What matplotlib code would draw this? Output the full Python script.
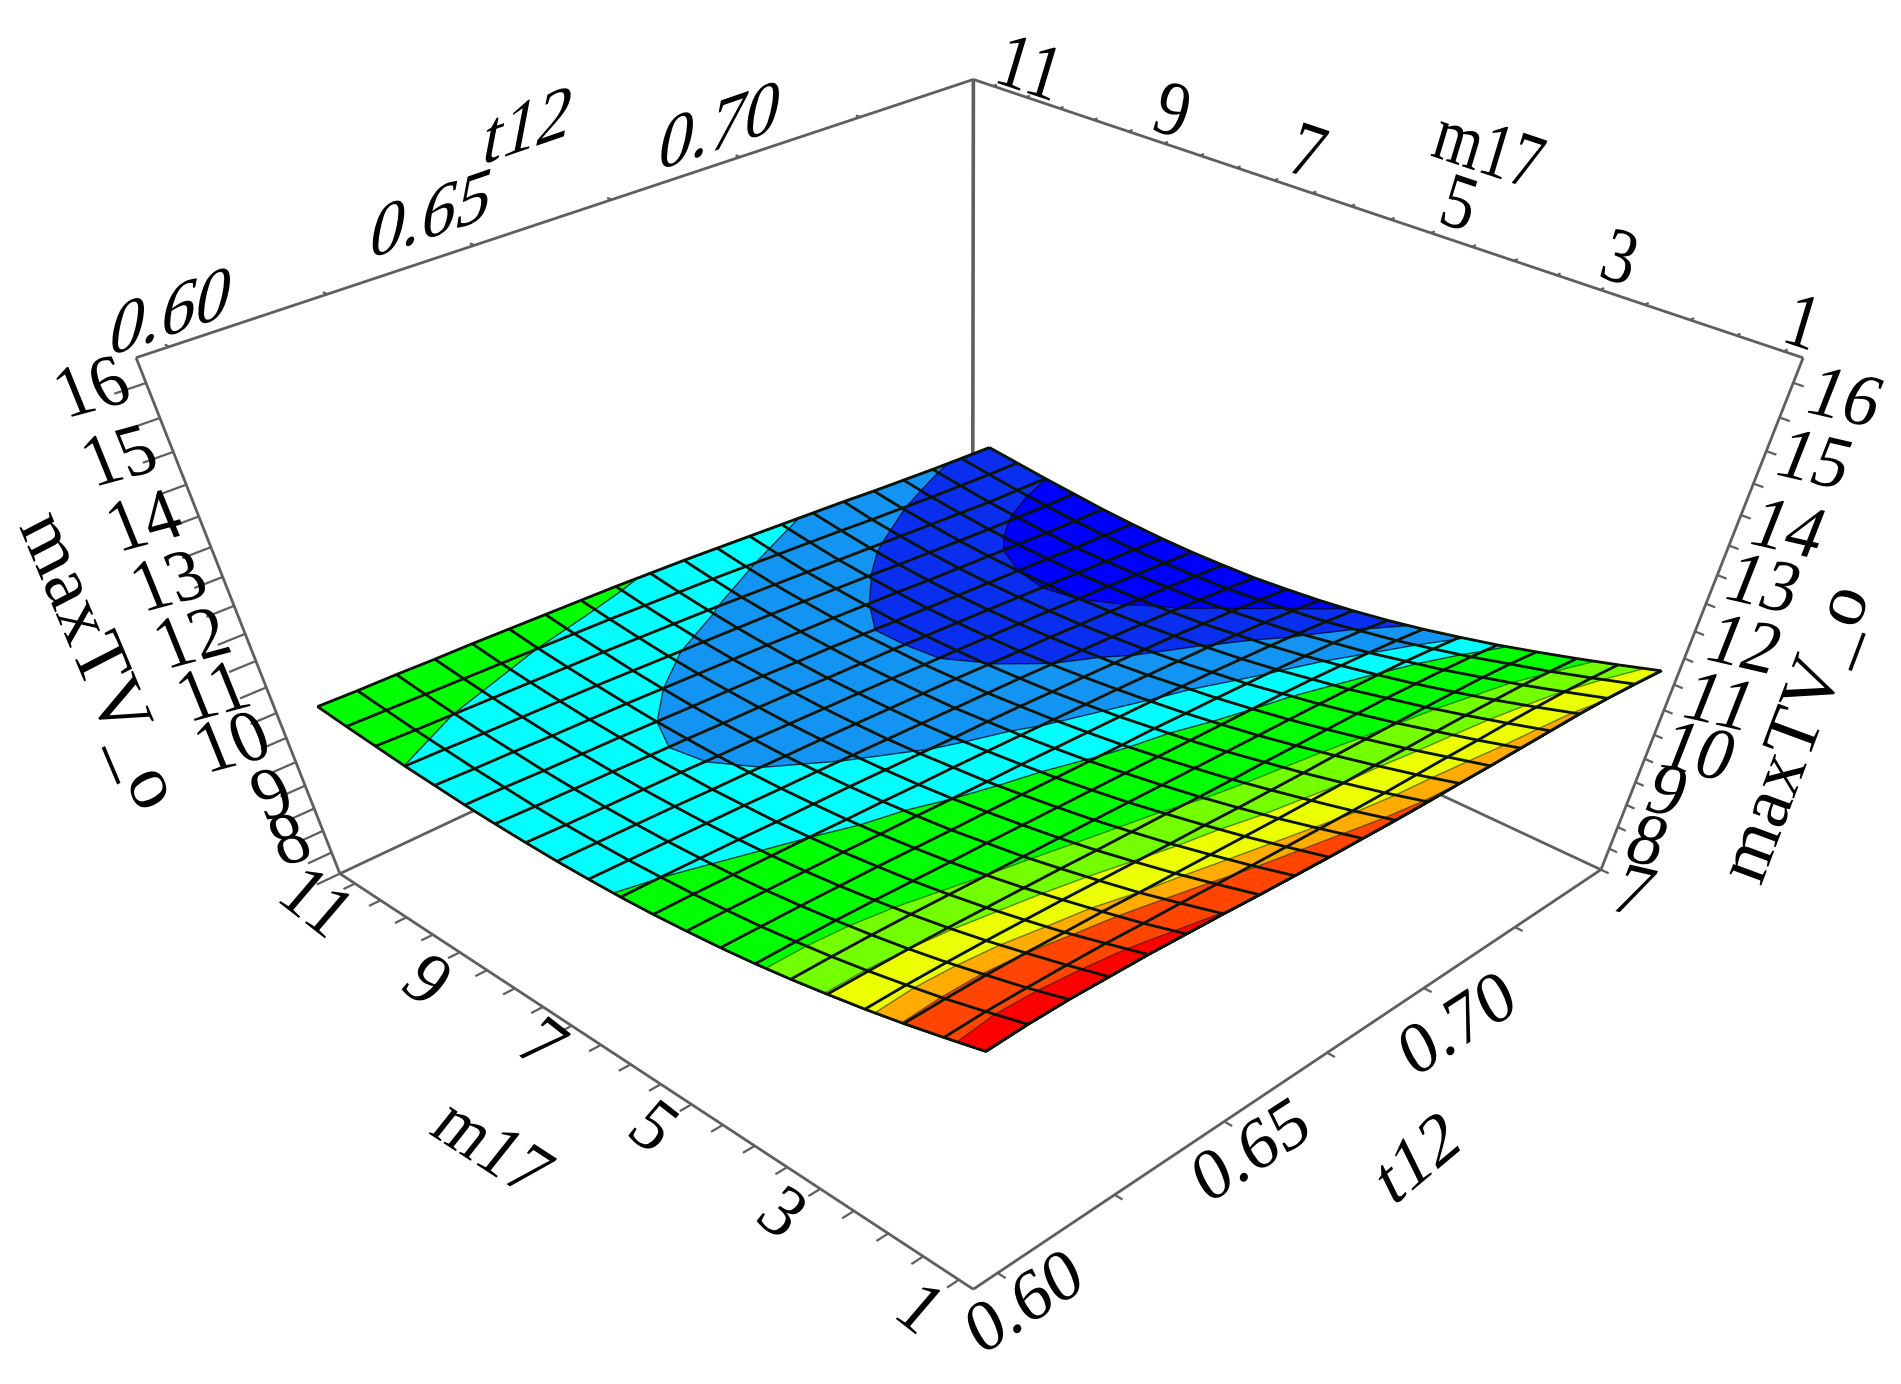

import numpy as np, matplotlib
matplotlib.use('Agg')
import matplotlib.pyplot as plt
from matplotlib.patheffects import AbstractPathEffect
from matplotlib.transforms import Affine2D
from mpl_toolkits.mplot3d import art3d, proj3d

# ---------- data ----------
m17_values = np.arange(1, 11.01, 0.5)
t12_values = np.arange(0.60, 0.7501, 0.0075)
maxTV_o = np.array([
[11.82,11.61,11.41,11.23,11.07,10.92,10.79,10.68,10.59,10.51,10.45,10.41,10.38,10.37,10.37,10.38,10.41,10.44,10.49,10.54,10.60],
[11.85,11.63,11.42,11.24,11.07,10.92,10.79,10.67,10.58,10.50,10.44,10.39,10.36,10.34,10.34,10.36,10.38,10.42,10.46,10.52,10.58],
[11.85,11.62,11.42,11.23,11.06,10.91,10.78,10.66,10.56,10.48,10.42,10.37,10.34,10.32,10.32,10.33,10.36,10.39,10.44,10.50,10.57],
[11.82,11.60,11.40,11.21,11.04,10.89,10.76,10.64,10.54,10.46,10.40,10.35,10.32,10.30,10.30,10.31,10.33,10.37,10.42,10.48,10.55],
[11.79,11.57,11.36,11.18,11.01,10.86,10.73,10.62,10.52,10.44,10.37,10.33,10.29,10.28,10.27,10.29,10.31,10.35,10.40,10.46,10.54],
[11.74,11.52,11.33,11.15,10.98,10.83,10.70,10.59,10.49,10.41,10.35,10.30,10.27,10.25,10.25,10.26,10.29,10.33,10.38,10.44,10.52],
[11.69,11.48,11.28,11.11,10.95,10.80,10.68,10.56,10.47,10.39,10.33,10.28,10.24,10.23,10.22,10.23,10.26,10.30,10.36,10.42,10.50],
[11.63,11.43,11.24,11.07,10.91,10.77,10.65,10.54,10.44,10.36,10.30,10.25,10.22,10.20,10.20,10.21,10.23,10.27,10.33,10.40,10.48],
[11.58,11.38,11.20,11.03,10.88,10.74,10.62,10.51,10.41,10.34,10.27,10.22,10.19,10.17,10.17,10.18,10.20,10.24,10.30,10.37,10.46],
[11.53,11.34,11.16,11.00,10.85,10.71,10.59,10.48,10.39,10.31,10.24,10.19,10.16,10.14,10.13,10.14,10.17,10.21,10.27,10.34,10.43],
[11.49,11.30,11.12,10.96,10.81,10.68,10.56,10.45,10.36,10.28,10.22,10.16,10.13,10.11,10.10,10.11,10.13,10.18,10.23,10.31,10.40],
[11.45,11.26,11.09,10.93,10.78,10.65,10.53,10.42,10.33,10.25,10.19,10.13,10.10,10.07,10.07,10.07,10.10,10.14,10.19,10.27,10.36],
[11.42,11.23,11.06,10.90,10.76,10.62,10.50,10.40,10.30,10.22,10.15,10.10,10.06,10.04,10.03,10.03,10.06,10.10,10.15,10.23,10.32],
[11.40,11.21,11.04,10.88,10.73,10.59,10.47,10.36,10.27,10.19,10.12,10.06,10.02,10.00, 9.99, 9.99,10.02,10.06,10.11,10.19,10.28],
[11.37,11.19,11.01,10.85,10.70,10.56,10.44,10.33,10.24,10.15,10.08,10.03, 9.99, 9.96, 9.95, 9.95, 9.97,10.01,10.07,10.15,10.24],
[11.35,11.16,10.99,10.82,10.67,10.53,10.41,10.29,10.20,10.11,10.04, 9.99, 9.94, 9.92, 9.91, 9.91, 9.93, 9.97,10.03,10.10,10.20],
[11.33,11.14,10.96,10.79,10.64,10.49,10.37,10.25,10.15,10.07,10.00, 9.94, 9.90, 9.87, 9.86, 9.87, 9.89, 9.93, 9.99,10.06,10.15],
[11.31,11.11,10.92,10.75,10.59,10.45,10.32,10.20,10.10,10.02, 9.94, 9.89, 9.85, 9.83, 9.82, 9.83, 9.85, 9.89, 9.95,10.02,10.11],
[11.27,11.07,10.88,10.71,10.54,10.40,10.26,10.15,10.04, 9.96, 9.89, 9.83, 9.80, 9.78, 9.77, 9.78, 9.81, 9.86, 9.91, 9.99,10.07],
[11.21,11.01,10.82,10.65,10.48,10.33,10.19,10.08, 9.97, 9.89, 9.82, 9.77, 9.74, 9.73, 9.73, 9.75, 9.78, 9.83, 9.89, 9.96,10.04],
[11.14,10.94,10.75,10.57,10.40,10.25,10.11, 9.99, 9.89, 9.81, 9.75, 9.70, 9.68, 9.67, 9.68, 9.71, 9.75, 9.81, 9.87, 9.94,10.01]])
band_levels = [9.870, 10.056, 10.260, 10.441, 10.826, 11.056, 11.273, 11.397, 11.673]
m17_ticks = np.arange(1, 11.01, 0.5)
t12_ticks = np.arange(0.60, 0.7251, 0.025)
maxTV_ticks = np.arange(7, 16.01, 0.5)
m17_labels = [11, 9, 7, 5, 3, 1]
t12_labels = [0.60, 0.65, 0.70]
left_z_labels = [16, 15, 14, 13, 12, 11, 10, 9, 8]
right_z_labels = [16, 15, 14, 13, 12, 11, 10, 9, 8, 7]

# ---------- camera: 3x4 projective matrix fitted to the box of the picture ----------
camera = np.array([[-0.148677, 0.275547, -0.075797, 0.583125],
                   [-0.063006, -0.067289, -0.192907, 0.386931],
                   [0.053099, 0.060266, -0.078172, 0.590086]])
norm = np.array([[1/5, 0, 0, -6/5], [0, 1/.08, 0, -.675/.08], [0, 0, 1/4.5, -11.5/4.5], [0, 0, 0, 1]])
cam = camera @ norm
W, H = 1901, 1384
M4 = np.array([1000*cam[0], H*cam[2]-1000*cam[1], [.1, .2, .3, 0], cam[2]])
M0, M1, T0, T1, Z0, Z1 = .8, 11.3, .595, .75, 7, 16.35

class Plane(AbstractPathEffect):
    """Draws a text on the sheared plane of its axis wall."""
    def __init__(self, v, w, anchor):
        super().__init__(); self.v = v; self.w = w; self.a = anchor
    def draw_path(self, renderer, gc, tpath, affine, rgbFace=None):
        mx = affine.get_matrix(); s = np.hypot(mx[0, 0], mx[1, 0]); e = tpath.get_extents()
        A = (Affine2D().translate(-(e.x0+e.x1)/2, -(e.y0+e.y1)/2).scale(s)
             + Affine2D(np.array([[self.v[0], self.w[0], self.a[0]], [self.v[1], self.w[1], self.a[1]], [0, 0, 1.]])))
        renderer.draw_path(gc, tpath, A, rgbFace)

fig = plt.figure(figsize=(W/100, H/100), dpi=100)
ax = fig.add_axes([0, 0, 1, 1], projection='3d')
ax.set_axis_off(); ax.computed_zorder = False
ax.apply_aspect = lambda position=None: None
ax.get_proj = lambda: M4

band_colors = [(0, 0, 1), (.04, .18, .93), (.08, .58, .95), (0, 1, 1), (0, 1, 0), (.45, 1, 0), (.92, 1, 0), (1, .67, 0), (1, .27, 0), (1, 0, 0)]
frame = '#5f5f5f'
def segs(lst, lw):
    ax.add_collection3d(art3d.Line3DCollection(lst, colors=frame, linewidths=lw, zorder=1))
segs([[(M1, T0, Z0), (M0, T0, Z0)], [(M0, T0, Z0), (M0, T1, Z0)], [(M1, T0, Z0), (M1, T1, Z0)], [(M0, T1, Z0), (M1, T1, Z0)],
      [(M1, T0, Z0), (M1, T0, Z1)], [(M0, T1, Z0), (M0, T1, Z1)], [(M1, T0, Z1), (M1, T1, Z1)], [(M1, T1, Z1), (M0, T1, Z1)]], 2.0)
segs([[(M1, T1, Z0), (M1, T1, Z1)]], 2.6)
tk = []
for m in m17_ticks:
    tk += [[(m, T0, Z0), (m, T0-.0024, Z0)], [(m, T1, Z1), (m, T1+.0009, Z1)]]
for t in t12_ticks:
    tk += [[(M0, t, Z0), (M0-.11, t, Z0)], [(M1, t, Z1), (M1+.07, t, Z1)]]
for z in maxTV_ticks:
    tk += [[(M1, T0, z), (M1, T0-.0048, z)], [(M0, T1, z), (M0-.11, T1, z)]]
segs(tk, 1.6)

MM, TT = np.meshgrid(m17_values, t12_values)
ax.plot_surface(MM, TT, maxTV_o, color=band_colors[0], shade=False, linewidth=0, zorder=2, rstride=1, cstride=1)
def lift(mv, tv):
    i = np.clip((mv-1)/.5, 0, 20-1e-9); j = np.clip((tv-.6)/.0075, 0, 20-1e-9)
    i0 = i.astype(int); j0 = j.astype(int); a = i-i0; b = j-j0
    return (maxTV_o[j0, i0]*(1-a)*(1-b) + maxTV_o[j0, i0+1]*a*(1-b) + maxTV_o[j0+1, i0]*(1-a)*b + maxTV_o[j0+1, i0+1]*a*b)
ft, at = plt.subplots()
for k, (lev, col) in enumerate(zip(band_levels, band_colors[1:])):
    cs = at.contourf(MM, TT, maxTV_o, levels=[lev, 1e3])
    polys = []
    for p in cs.get_paths():
        for poly in p.to_polygons(closed_only=False):
            if len(poly) > 2:
                polys.append(np.c_[poly, lift(poly[:, 0], poly[:, 1])])
    ax.add_collection3d(art3d.Poly3DCollection(polys, facecolors=[col], edgecolors=[(0, 0, .1, .75)] if k < 4 else [(0, .1, 0, .5)], linewidths=1.0, zorder=3+k*.01))
plt.close(ft)
ax.plot_wireframe(MM, TT, maxTV_o, color='#0a1408', linewidth=2.0, rstride=1, cstride=1, zorder=4)

SERIF = 'Liberation Serif'
def put(x, y, s, v, w):
    ax.text2D(x, y, s, ha='center', va='center', fontsize=54, family=SERIF, color='black', clip_on=False,
              rotation=np.degrees(np.arctan2(v[1], v[0])), transform=ax.transData,
              path_effects=[Plane(v, w, (x, y))], zorder=6)
def label(m, t, z, s, dx, dy, v, w):
    x, y, _ = proj3d.proj_transform(m, t, z, M4)
    put(x+dx, y-dy, s, v, w)
def V(deg, s):
    return (s*np.cos(np.radians(deg)), s*np.sin(np.radians(deg)))
for z in left_z_labels:
    label(M1, T0, z, str(z), -53 if z >= 10 else -34, 3 if z >= 10 else 8, V(15, .95), (-.375, .927))
for z, off in zip(right_z_labels, [(54, 14), (50, 8), (50, 13), (48, 8), (51, 12), (47, 16), (46, 16), (32, 8), (30, 13), (34, 21)]):
    label(M0, T1, z, str(z), off[0], off[1], V(-13, .95), (.365, .931))
for t, off in zip(t12_labels, [(2, -36), (-43, -32), (-20, -32)]):
    label(M1, t, Z1, '%.2f' % t, off[0], off[1], V(19, .97), (.2, 1.05))
for m, off in zip(m17_labels, [(38, -19), (44, -22), (35, -29), (29, -30), (20, -33), (20, -30)]):
    label(m, T1, Z1, str(m), off[0], off[1], V(-18.5, .9), (.3, 1.0))
for m, off in zip(m17_labels, [(-37, 18), (-32, 27), (-28, 18), (-37, 22), (-37, 23), (-37, 28)]):
    label(m, T0, Z0, str(m), off[0], off[1], V(-38, .95), (.65, .76))
for t, off in zip(t12_labels, [(26, 28), (26, 28), (33, 35)]):
    label(M0, t, Z0, '%.2f' % t, off[0], off[1], V(33, .97), (-.42, .85))
def title(s, px, py, v, w):
    put(px, H-py, s, v, w)
title('t12', 527, 125, V(19, .97), (.2, 1.05))
title('m17', 1489, 148, V(-18.5, .83), (.3, 1.0))
title('m17', 493, 1146, V(-33, .9), (.62, .78))
title('t12', 1416, 1158, V(40, .97), (-.42, .85))
title('maxTV_o', 97, 661, (.40, -.95), (.89, .46))
title('maxTV_o', 1797, 735, (.36, .96), (-.92, .34))
ax.viewLim.intervalx = (0, W); ax.viewLim.intervaly = (0, H)
fig.savefig('out.png', dpi=100)
